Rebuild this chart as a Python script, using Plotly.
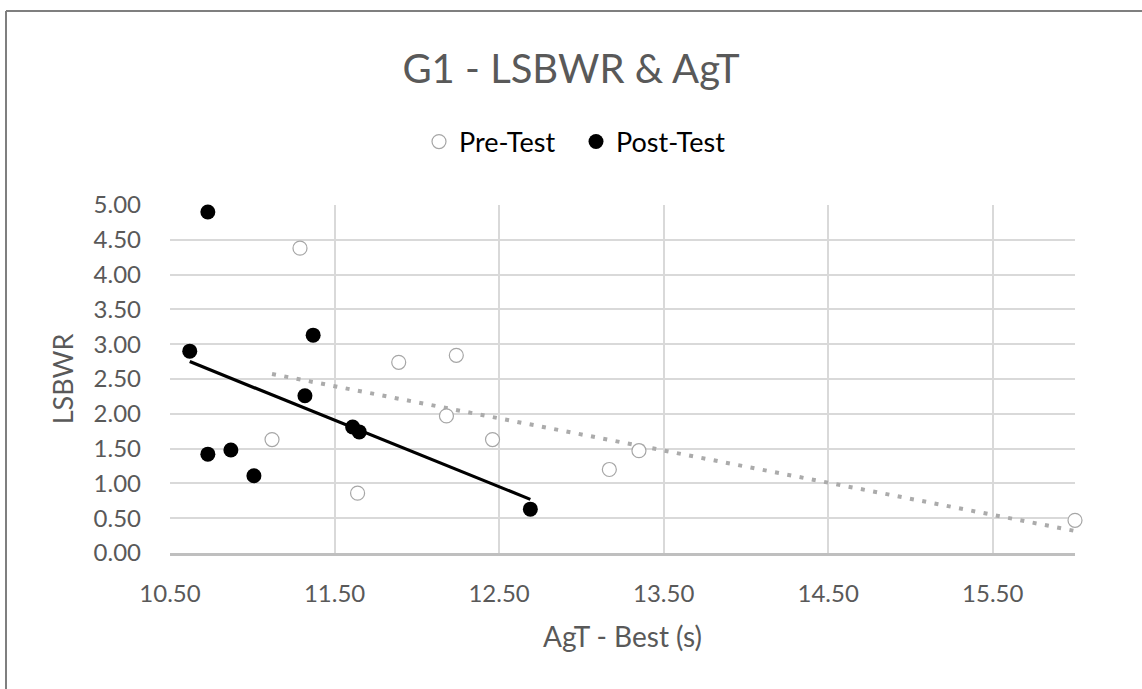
import numpy as np
import plotly.graph_objects as go

# ---- data ----
pre_x = [11.29, 11.12, 11.64, 11.89, 12.24, 12.18, 12.46, 13.17, 13.35, 16.00]
pre_y = [4.38, 1.63, 0.86, 2.74, 2.84, 1.97, 1.63, 1.20, 1.47, 0.47]

post_x = [10.73, 10.62, 11.37, 11.32, 11.61, 11.65, 10.73, 10.87, 11.01, 12.69]
post_y = [4.90, 2.90, 3.13, 2.26, 1.81, 1.74, 1.42, 1.48, 1.11, 0.63]

x_ticks = [10.5, 11.5, 12.5, 13.5, 14.5, 15.5]
y_ticks = [0, 0.5, 1, 1.5, 2, 2.5, 3, 3.5, 4, 4.5, 5]

title_text = "G1 - LSBWR & AgT"
x_title = "AgT - Best (s)"
y_title = "LSBWR"

FONT = "Lato"
GREY_TXT = "#595959"


def trend(xs, ys):
    m, b = np.polyfit(xs, ys, 1)
    xx = np.array([min(xs), max(xs)])
    return xx, m * xx + b


pre_tx, pre_ty = trend(pre_x, pre_y)
post_tx, post_ty = trend(post_x, post_y)

fig = go.Figure()

fig.add_trace(go.Scatter(
    x=pre_tx, y=pre_ty, mode="lines", showlegend=False, hoverinfo="skip",
    line=dict(color="#ababab", width=4, dash="4px,8.5px"),
))
fig.add_trace(go.Scatter(
    x=post_tx, y=post_ty, mode="lines", showlegend=False, hoverinfo="skip",
    line=dict(color="#000000", width=3.2),
))
fig.add_trace(go.Scatter(
    x=pre_x, y=pre_y, mode="markers", name="Pre-Test", cliponaxis=False,
    marker=dict(symbol="circle", size=14, color="#ffffff",
                line=dict(color="#a6a6a6", width=1.2)),
))
fig.add_trace(go.Scatter(
    x=post_x, y=post_y, mode="markers", name="Post-Test", cliponaxis=False,
    marker=dict(symbol="circle", size=15, color="#000000",
                line=dict(color="#000000", width=0)),
))

L, R, T, B = 170, 67, 205, 136
W, H = 1142, 689
pw, ph = W - L - R, H - T - B

fig.update_layout(
    width=W, height=H,
    margin=dict(l=L, r=R, t=T, b=B, autoexpand=False),
    paper_bgcolor="white", plot_bgcolor="white",
    font=dict(family=FONT, color=GREY_TXT),
    title=dict(text=title_text, x=0.5, xanchor="center", y=1 - 69 / H,
               yanchor="middle", font=dict(size=40, color=GREY_TXT, family=FONT)),
    legend=dict(orientation="h", x=(576 - L) / pw, xanchor="center",
                y=(H - B - 142) / ph, yanchor="middle",
                font=dict(size=27, color="#000000", family=FONT),
                itemwidth=30, entrywidth=112, bgcolor="rgba(0,0,0,0)"),
    showlegend=True,
)

fig.update_xaxes(
    range=[10.5, 16.0], tickvals=x_ticks, tickformat=".2f",
    showgrid=True, gridcolor="#d9d9d9", gridwidth=2,
    showline=True, linecolor="#bfbfbf", linewidth=2.5,
    zeroline=False, ticks="", ticklabelstandoff=17,
    tickfont=dict(size=24, color=GREY_TXT, family=FONT),
    title=dict(text=x_title, font=dict(size=28, color=GREY_TXT, family=FONT),
               standoff=22),
)
fig.update_yaxes(
    range=[0, 5], tickvals=y_ticks, tickformat=".2f",
    showgrid=True, gridcolor="#d9d9d9", gridwidth=2,
    showline=False, zeroline=False, ticks="", ticklabelstandoff=28,
    tickfont=dict(size=24, color=GREY_TXT, family=FONT),
    title=dict(text=y_title, font=dict(size=27, color=GREY_TXT, family=FONT),
               standoff=12),
)

# outer chart border (top and left edges visible in the reference)
bx = (6 - L) / pw
by = (H - B - 11) / ph
fig.add_shape(type="line", xref="paper", yref="paper",
              x0=bx, x1=1.2, y0=by, y1=by,
              line=dict(color="#7f7f7f", width=2))
fig.add_shape(type="line", xref="paper", yref="paper",
              x0=bx, x1=bx, y0=by, y1=-0.5,
              line=dict(color="#7f7f7f", width=2))

fig.write_html("out.html")
